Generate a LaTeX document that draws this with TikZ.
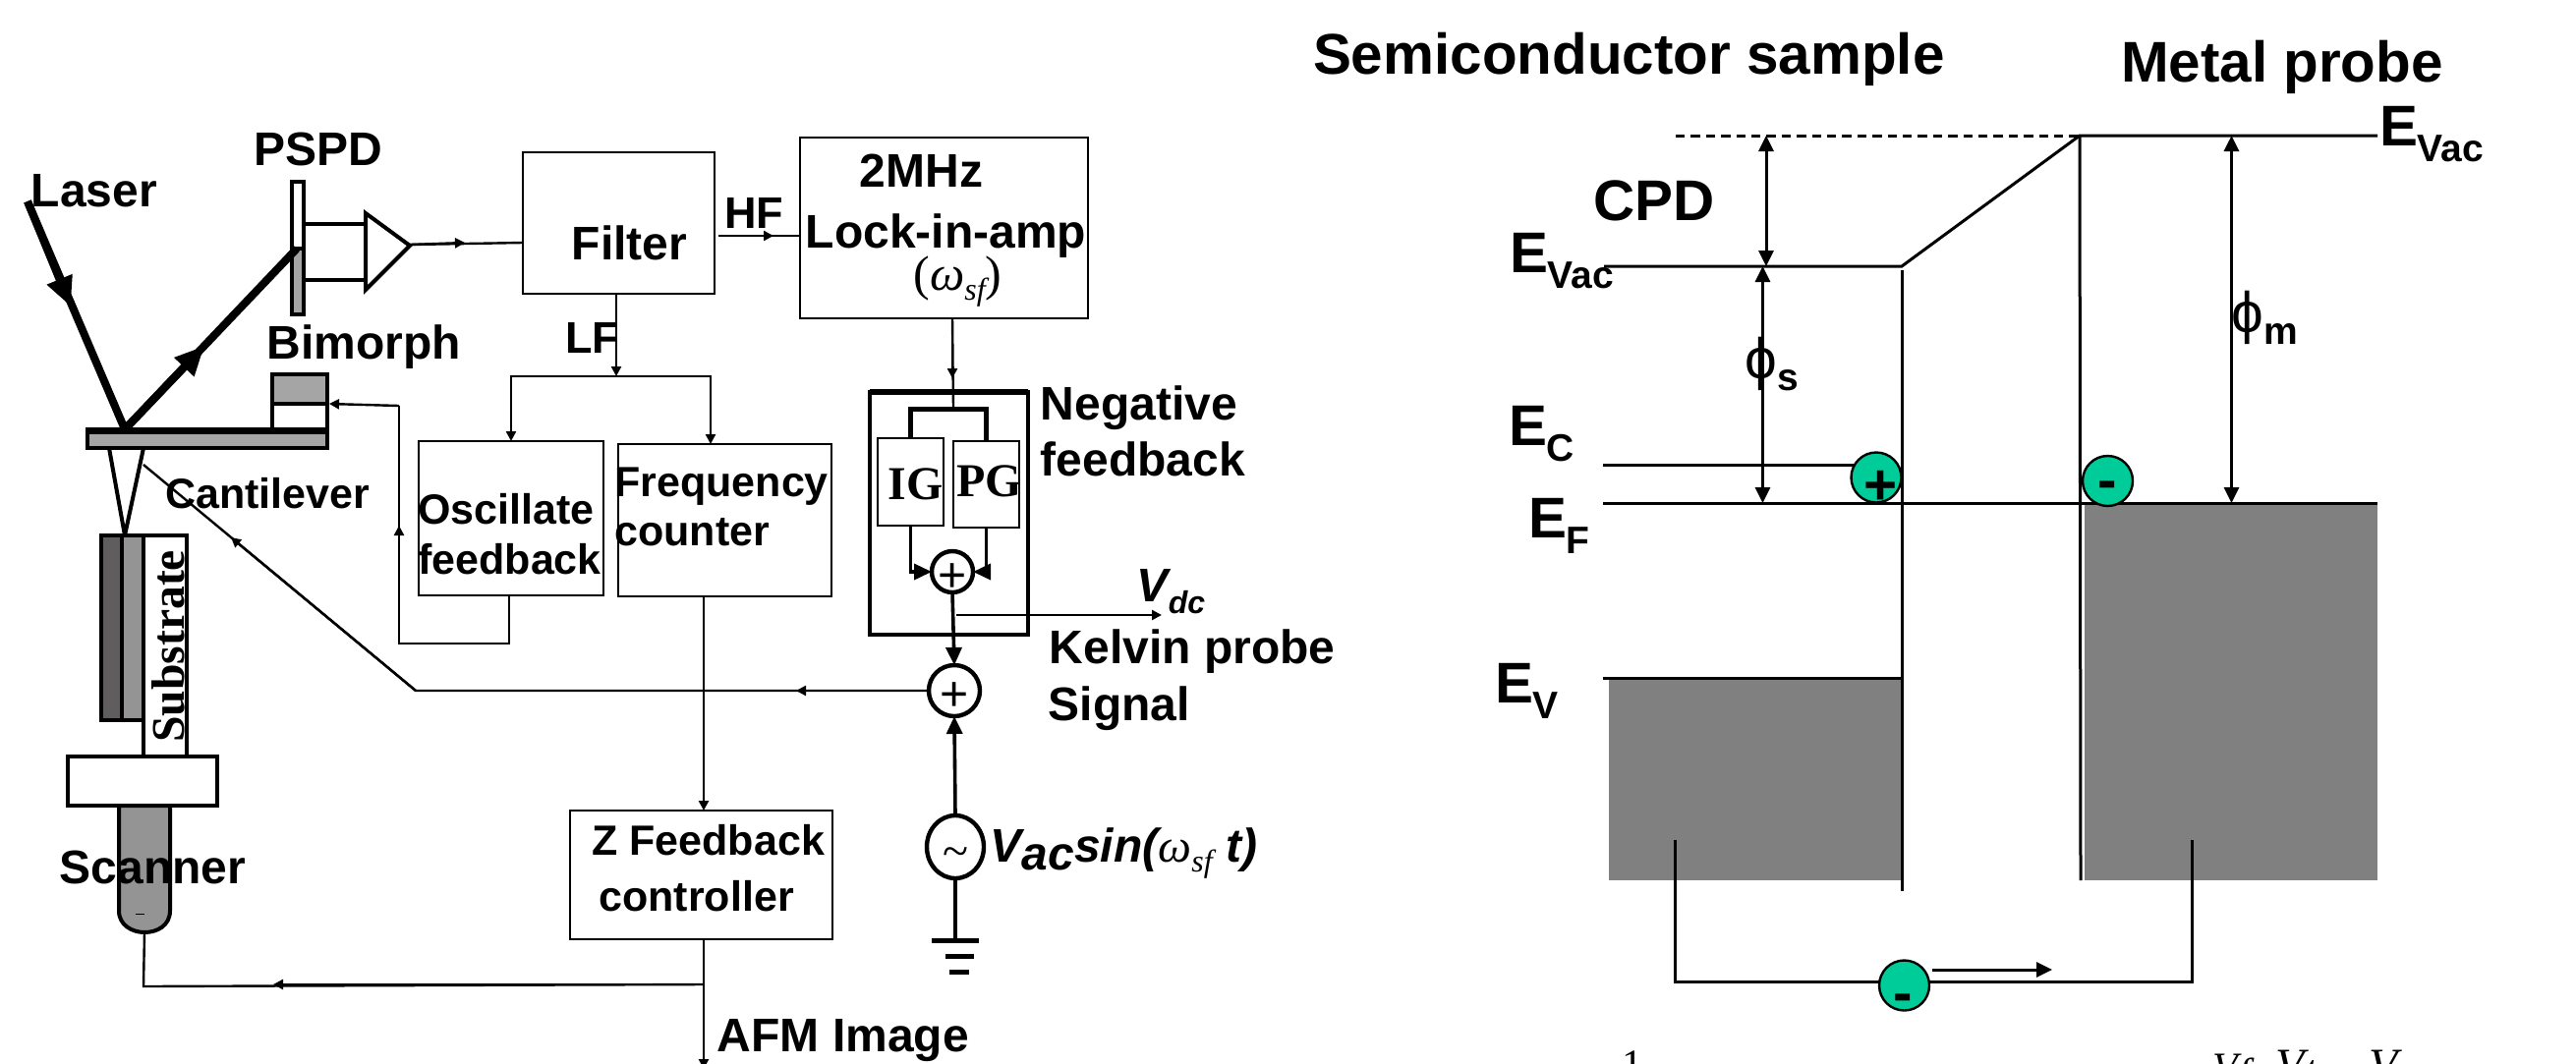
\documentclass[tikz,border=0pt]{standalone}
\usepackage{fontspec}
\setmainfont{Liberation Sans}
\newfontfamily\timesfont{Liberation Serif}
\usetikzlibrary{arrows.meta, fit, shapes.geometric}

\newcommand{\bigsize}{\fontsize{29.2}{29.2}\selectfont}
\newcommand{\midsize}{\fontsize{24}{24}\selectfont}
\newcommand{\lowsize}{\fontsize{21.5}{21.5}\selectfont}
\newcommand{\subsize}{\fontsize{19.5}{19.5}\selectfont}
% energy level label, subscript dropped below the E
\newcommand{\levelname}[1]{E\raisebox{-8pt}{\subsize #1}}
\newcommand{\omegasf}{{\timesfont\itshape\mdseries ω\raisebox{-5pt}{\fontsize{16}{16}\selectfont sf}}}
% glyph pushed down inside a round symbol
\newcommand{\lowered}[1]{\raisebox{-10pt}[0pt][0pt]{#1}}

\tikzset{
  box/.style = {draw, line width = 1.3pt, inner sep = 0, outer sep = 0},
  sig/.style = {line width = 1.2pt, >={Triangle[length = 5pt, width = 5pt]}},
  heavy/.style = {line width = 1.8pt, >={Triangle[length = 9pt, width = 8pt]}},
  beam/.style = {line width = 4pt, >={Triangle[length = 15pt, width = 13pt]}},
  part/.style = {draw, line width = 2pt},
  level/.style = {line width = 1.5pt, >={Triangle[length = 8pt, width = 7.5pt]}},
  adder/.style = {circle, draw, fill = white, line width = 2.2pt, inner sep = 0, outer sep = 0},
  charge/.style = {circle, draw, fill = chargegreen, line width = 1.2pt, minimum size = 25.5pt, inner sep = 0, outer sep = 0},
  biglbl/.style = {anchor = base west, inner sep = 0, xshift = -1.2pt, font = \bigsize\bfseries},
  lbl/.style = {anchor = base west, inner sep = 0, xshift = -0.8pt, font = \midsize\bfseries},
  lowlbl/.style = {anchor = base west, inner sep = 0, xshift = -0.5pt, font = \lowsize\bfseries},
  serlbl/.style = {anchor = base west, inner sep = 0, font = \timesfont\bfseries\fontsize{24}{24}\selectfont}
}
\definecolor{chargegreen}{RGB}{0, 204, 153}
\definecolor{bandgray}{RGB}{128, 128, 128}
\definecolor{partgray}{RGB}{165, 165, 165}
\definecolor{darkgray}{RGB}{95, 93, 93}

\begin{document}
\begin{tikzpicture}[x = 0.5pt, y = -0.5pt]
  \useasboundingbox (0, 0) rectangle (2621, 1082);

  % optical path
  \coordinate (laserstart) at (28, 205);
  \coordinate (laserhead) at (72, 312);
  \coordinate (laserhit) at (127, 437);
  \coordinate (beamhead) at (208, 352);
  \coordinate (beamend) at (302, 253);
  \draw [part, fill = white] (297, 185) rectangle (309, 253);
  \draw [part, fill = partgray] (297, 253) rectangle (309, 320);
  \draw [part] (309, 228) -- (372, 228) (309, 285) -- (372, 285);
  \draw [part, fill = white] (372, 217) -- (417, 250) -- (372, 295) -- cycle;
  \coordinate (ampout) at (417, 249);
  \draw [beam] (laserstart) -- (laserhit) -- (beamend);
  \draw [beam, ->] (laserstart) -- (laserhead);
  \draw [beam, ->] (laserhit) -- (beamhead);

  % cantilever, bimorph, tip
  \draw [part, fill = partgray] (277, 381) rectangle (333, 411);
  \draw [part, fill = white] (277, 411) rectangle (333, 437);
  \draw [part, fill = partgray] (89, 437) rectangle (333, 456);
  \draw [line width = 3pt] (89, 439) -- (333, 439);
  \draw [part] (111, 456) -- (127, 545) -- (146, 456);

  % sample stack and scanner
  \draw [part, fill = darkgray] (103, 545) rectangle (124, 733);
  \draw [part, fill = partgray!90!black] (124, 545) rectangle (146, 733);
  \draw [part, fill = white] (146, 545) rectangle (190, 770);
  \node [serlbl, rotate = 90, font = \timesfont\bfseries\fontsize{23.8}{23.8}\selectfont] (substrate) at (187, 756) {Substrate};
  \draw [part, fill = white] (69, 770) rectangle (221, 820);
  \draw [part, fill = partgray!90!black] (121, 820) -- (121, 927) .. controls (121, 942) and (135, 949) .. (147, 949)
    .. controls (160, 949) and (173, 942) .. (173, 927) -- (173, 820) -- cycle;
  \draw [line width = 0.4pt] (138, 930) -- (147, 930);
  \coordinate (scannerend) at (147, 949);

  % signal boxes
  \node [box, fit = {(532, 155) (727, 299)}] (filter) {};
  \node [box, fit = {(814, 140) (1107, 324)}] (lockin) {};
  \node [box, fit = {(426, 449) (614, 606)}] (oscillate) {};
  \node [box, fit = {(629, 452) (846, 607)}] (counter) {};
  \node [box, fit = {(580, 825) (847, 956)}] (zctrl) {};
  \node [box, line width = 2pt, fit = {(885, 399) (1046, 646)}] (negbox) {};
  \draw [line width = 3pt] (885, 399) -- (1046, 399);
  \node [box, fit = {(893, 446) (960, 535)}] (igbox) {};
  \node [box, fit = {(970, 449) (1037, 537)}] (pgbox) {};
  \node [adder, minimum size = 21pt, font = \fontsize{25}{25}\selectfont] (sumfb) at (969, 582) {\lowered{+}};
  \node [adder, minimum size = 26pt, font = \fontsize{25}{25}\selectfont] (sumkp) at (971, 703) {\lowered{+}};
  \node [adder, ellipse, minimum width = 29pt, minimum height = 32pt, font = \timesfont\fontsize{24}{24}\selectfont] (source) at (972, 862) {\lowered{\textasciitilde}};

  % named corners of the routing
  \coordinate (filterin) at (532, 247);
  \coordinate (outmid) at (473, 247);
  \coordinate (hfout) at (731, 240);
  \coordinate (hfmid) at (787, 240);
  \coordinate (hfin) at (814, 240);
  \coordinate (lfbranch) at (627, 383);
  \coordinate (countertop) at (723, 452);
  \coordinate (lockout) at (969, 324);
  \coordinate (lockmid) at (969, 385);
  \coordinate (busmid) at (970, 416);
  \coordinate (oscfb) at (518, 606);
  \coordinate (oscturn) at (518, 655);
  \coordinate (bimleft) at (406, 655);
  \coordinate (bimmid) at (406, 535);
  \coordinate (bimturn) at (406, 413);
  \coordinate (bimorph) at (335, 411);
  \coordinate (kpmid) at (810, 703);
  \coordinate (kpturn) at (423, 703);
  \coordinate (kpdiag) at (235, 547);
  \coordinate (tipside) at (146, 473);
  \coordinate (ztop) at (716, 825);
  \coordinate (zbranch) at (716, 1002);
  \coordinate (zend) at (716, 1088);
  \coordinate (scanmid) at (278, 1002);
  \coordinate (scanturn) at (146, 1004);
  \coordinate (vdcstart) at (973, 626);
  \coordinate (vdcend) at (1182, 626);

  % connectors
  \draw [sig] (ampout) -- (filterin);
  \draw [sig, ->] (ampout) -- (outmid);
  \draw [sig] (hfout) -- (hfin);
  \draw [sig, ->] (hfout) -- (hfmid);
  \draw [sig, ->] (filter.south -| lfbranch) -- (lfbranch);
  \draw [sig, ->] (lfbranch) -| (oscillate.north);
  \draw [sig, ->] (lfbranch) -| (countertop);
  \draw [sig] (lockout) -- (busmid);
  \draw [sig, ->] (lockout) -- (lockmid);
  \draw [line width = 2.5pt] (igbox.north) |- (busmid) -| (pgbox.north);
  \draw [heavy, ->] (igbox.south) |- (sumfb.west);
  \draw [heavy, ->] (pgbox.south) |- (sumfb.east);
  \draw [heavy, ->] (sumfb.south) -- (sumkp.north);
  \draw [sig, ->] (vdcstart) -- (vdcend);
  \draw [sig] (sumkp.west) -- (kpturn) -- (tipside);
  \draw [sig, ->] (sumkp.west) -- (kpmid);
  \draw [sig, ->] (kpturn) -- (kpdiag);
  \draw [sig] (oscfb) -- (oscturn) -- (bimleft) -- (bimturn);
  \draw [sig, ->] (bimleft) -- (bimmid);
  \draw [sig, ->] (bimturn) -- (bimorph);
  \draw [sig, ->] (ztop |- counter.south) -- (ztop);
  \draw [sig, ->] (ztop |- zctrl.south) -- (zend);
  \draw [sig] (zbranch) -- (scanturn) -- (scannerend);
  \draw [sig, ->] (zbranch) -- (scanmid);
  \draw [heavy, ->] (source.north) -- (sumkp.south);

  % ground
  \coordinate (plateA) at (972, 957);
  \draw [heavy] (source.south) -- (plateA);
  \draw [line width = 2.5pt] (948, 957) -- (996, 957) (962, 973) -- (991, 973) (966, 989) -- (986, 989);

  % band diagram
  \fill [bandgray] (1637, 691) rectangle (1937, 896);
  \fill [bandgray] (2121, 514) rectangle (2419, 896);
  \coordinate (vacdash) at (1705, 138);
  \coordinate (vacmetal) at (2116, 138);
  \coordinate (vacmetalend) at (2419, 138);
  \coordinate (vacsemi) at (1632, 271);
  \coordinate (vackink) at (1935, 271);
  \coordinate (fermi) at (1631, 512);
  \coordinate (fermiend) at (2419, 512);
  \draw [level, dash pattern = on 4.7pt off 3pt] (vacdash) -- (vacmetal);
  \draw [level] (vacsemi) -- (vackink) -- (vacmetal) -- (vacmetalend);
  \draw [level] (1935, 275) -- (1935, 907);
  \draw [level] (vacmetal) -- (2117, 896);
  \draw [level] (fermi) -- (fermiend);
  \draw [level] (1631, 473) -- (1890, 473);
  \draw [level] (1631, 690) -- (1936, 690);
  \draw [level, <->] (1797, 138) -- (1797, 271);
  \draw [level, <->] (1793.5, 271) -- (1793.5, 512);
  \draw [level, <->] (2270.5, 138) -- (2270.5, 512);

  \node [charge] (holeup) at (1909, 486) {};
  \node [charge] (elecup) at (2144.5, 489.5) {};
  \coordinate (wireleft) at (1704, 855);
  \coordinate (wireright) at (2230, 855);
  \coordinate (wiredown) at (1937.5, 999);
  \draw [level] (wireleft) |- (wiredown) -| (wireright);
  \node [charge] (elecdown) at (1937.5, 1003) {};
  \coordinate (driftstart) at (1966, 987);
  \coordinate (driftend) at (2088, 987);
  \draw [level, ->] (driftstart) -- (driftend);

  % labels, left
  \node [lbl] (laserlbl) at (33, 210) {Laser};
  \node [lbl] (pspdlbl) at (260, 168) {PSPD};
  \node [lbl] (bimorphlbl) at (273, 365) {Bimorph};
  \node [lowlbl] (cantlbl) at (169, 517) {Cantilever};
  \node [lbl] (scanlbl) at (62, 899) {Scanner};
  \node [lbl] (filterlbl) at (583, 264) {Filter};
  \node [lowlbl, font = \fontsize{22.5}{22.5}\selectfont\bfseries] (hflbl) at (738, 232) {HF};
  \node [lowlbl, font = \fontsize{22.5}{22.5}\selectfont\bfseries] (lflbl) at (576, 359) {LF};
  \node [lbl] (mhzlbl) at (876, 190) {2MHz};
  \node [lbl] (locklbl) at (821, 252) {Lock-in-amp};
  \node [anchor = base west, inner sep = 0, font = \timesfont\fontsize{25}{25}\selectfont] (locksf) at (929, 295) {(\omegasf)};
  \node [lowlbl] (osclbl) at (426, 533) {Oscillate};
  \node [lowlbl] (oscfblbl) at (426, 584) {feedback};
  \node [lowlbl] (freqlbl) at (626, 505) {Frequency};
  \node [lowlbl] (countlbl) at (626, 555) {counter};
  \node [serlbl] (iglbl) at (903, 508) {IG};
  \node [serlbl] (pglbl) at (973, 505) {PG};
  \node [lbl] (neglbl) at (1060, 427) {Negative};
  \node [lbl] (negfblbl) at (1060, 484) {feedback};
  \node [lbl, font = \midsize\bfseries\itshape] (vdclbl) at (1158, 612) {V\raisebox{-6pt}{\fontsize{16}{16}\selectfont dc}};
  \node [lbl] (kplbl) at (1069, 675) {Kelvin probe};
  \node [lbl] (siglbl) at (1068, 733) {Signal};
  \node [lowlbl] (zlbl) at (603, 870) {Z Feedback};
  \node [lowlbl] (ctrllbl) at (610, 927) {controller};
  \node [lbl] (afmlbl) at (731, 1070) {AFM Image};
  \node [lbl, font = \midsize\bfseries\itshape] (vaclbl) at (1009, 877) {V\raisebox{-4pt}{ac}sin(\omegasf\ t)};

  % labels, right
  \node [biglbl] (semilbl) at (1338, 75) {Semiconductor sample};
  \node [biglbl] (metallbl) at (2160, 83) {Metal probe};
  \node [biglbl] (cpdlbl) at (1623, 224) {CPD};
  \node [biglbl] (evacleft) at (1538, 277) {\levelname{Vac}};
  \node [biglbl] (evacright) at (2423, 148) {\levelname{Vac}};
  \node [biglbl] (eclbl) at (1537, 453) {\levelname{C}};
  \node [biglbl] (eflbl) at (1557, 547) {\levelname{F}};
  \node [biglbl] (evlbl) at (1523, 715) {\levelname{V}};
  \node [anchor = base west, inner sep = 0, font = \bigsize] (phislbl) at (1775, 385) {ϕ\raisebox{-6pt}{\subsize\bfseries s}};
  \node [anchor = base west, inner sep = 0, font = \bigsize] (phimlbl) at (2270, 338) {ϕ\raisebox{-6pt}{\subsize\bfseries m}};
  \node [biglbl] (plusmark) at (1898, 513) {+};
  \node [biglbl] (minusup) at (2136, 508) {-};
  \node [biglbl] (minusdown) at (1928, 1030) {-};

  % tops of the next line of text, cut off by the page edge
  \node [anchor = base west, inner sep = 0, font = \timesfont\fontsize{21}{21}\selectfont] (unitone) at (1650, 1097) {1};
  \node [anchor = base west, inner sep = 0, font = \timesfont\itshape\fontsize{21}{21}\selectfont] (voltf) at (2251, 1100) {V\raisebox{-3pt}{f}};
  \node [anchor = base west, inner sep = 0, font = \timesfont\itshape\fontsize{24}{24}\selectfont] (voltt) at (2315, 1100) {V\raisebox{-3pt}{t}};
  \node [anchor = base west, inner sep = 0, font = \timesfont\itshape\fontsize{24}{24}\selectfont] (voltv) at (2410, 1100) {V};
\end{tikzpicture}
\end{document}
